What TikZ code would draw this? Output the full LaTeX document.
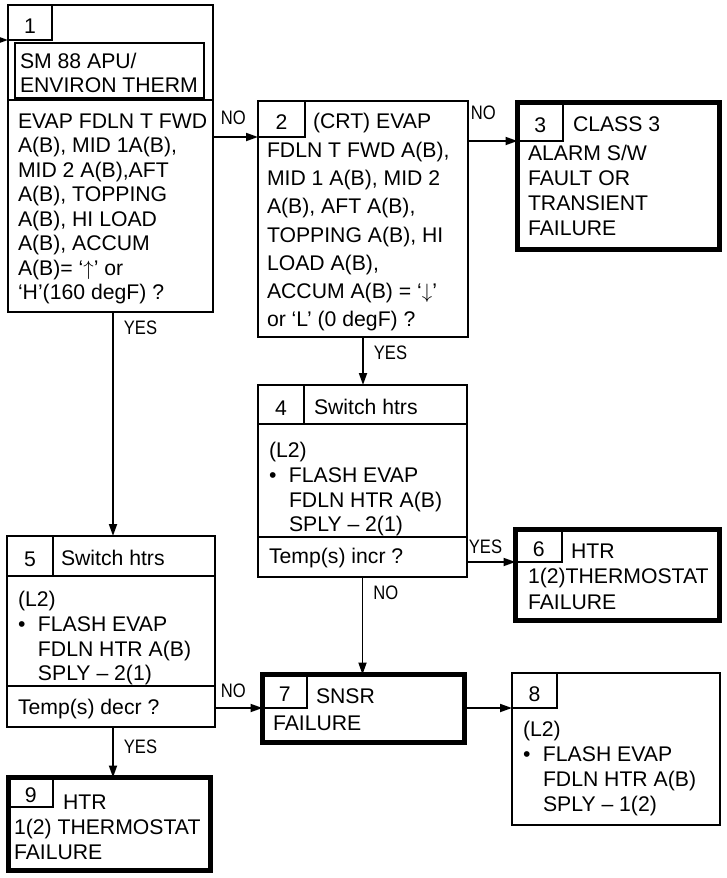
\documentclass[tikz,border=0pt]{standalone}
\usepackage{fontspec}
\setmainfont{Liberation Sans}
\newfontfamily\narrowfont[FakeStretch=0.85]{Liberation Sans}
\usetikzlibrary{arrows.meta, positioning, calc}
\tikzset{
  every picture/.style={line width=2pt},
  stepbox/.style={draw, line width=2pt, inner sep=0pt, outer sep=0pt, anchor=north west},
  endbox/.style={stepbox, line width=5pt},
  tab/.style={draw, line width=1.5pt, inner sep=0pt, outer sep=0pt, anchor=north west,
    text height=21pt, text depth=0pt, font=\fontsize{21.2}{25}\selectfont},
  txt/.style={inner sep=0pt, anchor=north west, align=left, font=\fontsize{21.2}{#1}\selectfont},
  txt/.default=25,
  arrow/.style={-{Triangle[length=12pt, width=8pt]}, line width=1.8pt},
  lbl/.style={inner sep=0pt, font=\narrowfont\fontsize{19.5}{20}\selectfont},
}
\begin{document}
\begin{tikzpicture}[x=1pt, y=-1pt]
  \useasboundingbox (0,0) rectangle (727,878);
  % 1: start
  \node[stepbox, minimum width=205, minimum height=307] (b1) at (8,5) {};
  \node[tab, minimum width=44, minimum height=35] (t1) at (b1.north west) {1};
  \node[stepbox, minimum width=189, minimum height=55] (h1) at (15,43) {};
  \node[txt=23.5] (h1t) at (19,52.5) {SM 88 APU/\\ENVIRON THERM};
  \draw (b1.west |- 0,100) -- (b1.east |- 0,100);
  \node[txt=24.5] (q1) at (17,112.5) {EVAP FDLN T FWD\\A(B), MID 1A(B),\\MID 2 A(B),AFT\\A(B), TOPPING\\A(B), HI LOAD\\A(B), ACCUM\\A(B)= ‘$\uparrow$’ or\\‘H’(160 degF) ?};
  % 2: low limit check
  \node[stepbox, minimum width=210, minimum height=236] (b2) at (258,101) {};
  \node[tab, minimum width=47, minimum height=36] (t2) at (b2.north west) {2};
  \node[txt=28.3] (q2) at (266,112.5) {\hspace*{46pt}(CRT) EVAP\\FDLN T FWD A(B),\\MID 1 A(B), MID 2\\A(B), AFT A(B),\\TOPPING A(B), HI\\LOAD A(B),\\ACCUM A(B) = ‘$\downarrow$’\\or ‘L’ (0 degF) ?};
  % 3: class 3 alarm
  \node[endbox, minimum width=202, minimum height=147] (b3) at (517.5,102.5) {};
  \node[tab, minimum width=45.5, minimum height=38.5] (t3) at (b3.north west) {3};
  \node[txt] (h3) at (572,115.5) {CLASS 3};
  \node[txt] (q3) at (527,144.5) {ALARM S/W\\FAULT OR\\TRANSIENT\\FAILURE};
  % 4: switch heaters (low)
  \node[stepbox, minimum width=209, minimum height=192] (b4) at (258,385) {};
  \node[tab, minimum width=46, minimum height=39] (t4) at (b4.north west) {4};
  \draw (t4.south west) -- (t4.south -| b4.east);
  \node[txt] (h4) at (313,398.5) {Switch htrs};
  \node[txt=24.7] (q4) at (268,441.5) {(L2)\\\makebox[20pt][l]{•}FLASH EVAP\\\hspace*{20pt}FDLN HTR A(B)\\\hspace*{20pt}SPLY – 2(1)};
  \draw (b4.west |- 0,537) -- (b4.east |- 0,537);
  \node[txt] (a4) at (268,547.5) {Temp(s) incr ?};
  % 5: switch heaters (high)
  \node[stepbox, minimum width=208, minimum height=191] (b5) at (7,536) {};
  \node[tab, minimum width=46, minimum height=40] (t5) at (b5.north west) {5};
  \draw (t5.south west) -- (t5.south -| b5.east);
  \node[txt] (h5) at (60,549.5) {Switch htrs};
  \node[txt=24.7] (q5) at (17,590.5) {(L2)\\\makebox[20pt][l]{•}FLASH EVAP\\\hspace*{20pt}FDLN HTR A(B)\\\hspace*{20pt}SPLY – 2(1)};
  \draw (b5.west |- 0,686) -- (b5.east |- 0,686);
  \node[txt] (a5) at (17,698.5) {Temp(s) decr ?};
  % 6: thermostat failure
  \node[endbox, minimum width=204, minimum height=91] (b6) at (515.5,529.5) {};
  \node[tab, minimum width=46.5, minimum height=32.5] (t6) at (b6.north west) {6};
  \node[txt] (h6) at (570,542.5) {HTR};
  \node[txt=25.5] (q6) at (527,567.5) {1(2)THERMOSTAT\\FAILURE};
  % 7: sensor failure
  \node[endbox, minimum width=202, minimum height=68] (b7) at (262.5,674.5) {};
  \node[tab, minimum width=44.5, minimum height=33.5] (t7) at (b7.north west) {7};
  \node[txt] (h7) at (315,687.5) {SNSR};
  \node[txt] (q7) at (272,714.5) {FAILURE};
  % 8: switch back
  \node[stepbox, minimum width=208, minimum height=152] (b8) at (512,673) {};
  \node[tab, minimum width=45, minimum height=35] (t8) at (b8.north west) {8};
  \node[txt] (q8) at (522,720.5) {(L2)\\\makebox[20pt][l]{•}FLASH EVAP\\\hspace*{20pt}FDLN HTR A(B)\\\hspace*{20pt}SPLY – 1(2)};
  % 9: thermostat failure
  \node[endbox, minimum width=202, minimum height=93] (b9) at (8.5,777.5) {};
  \node[tab, minimum width=44.5, minimum height=29.5] (t9) at (b9.north west) {9};
  \node[txt] (h9) at (62,793.5) {HTR};
  \node[txt] (q9) at (13,818.5) {1(2) THERMOSTAT\\FAILURE};
  % connectors
  \coordinate (feed) at (0,40);
  \draw[arrow] (feed) -- (t1.south -| b1.west);
  \draw[arrow] (t2.south -| b1.east) -- node[lbl, pos=0, anchor=south west, xshift=7, yshift=11] (n12) {NO} (t2.south -| b2.west);
  \draw[arrow] (t3.south -| b2.east) -- node[lbl, pos=0, anchor=south west, xshift=2, yshift=20] (n23) {NO} (t3.south -| b3.west);
  \draw[arrow] (b1.south -| 113,0) -- node[lbl, pos=0, anchor=north west, xshift=10, yshift=-8] (y15) {YES} (b5.north -| 113,0);
  \draw[arrow] (b2.south) -- node[lbl, pos=0, anchor=north west, xshift=10, yshift=-8] (y24) {YES} (b2.south |- b4.north);
  \draw[arrow] (b4.east |- t6.south) -- node[lbl, pos=0, anchor=south west, xshift=1, yshift=7] (y46) {YES} (t6.south -| b6.west);
  \draw[arrow] (b4.south) -- node[lbl, pos=0, anchor=north west, xshift=10, yshift=-8] (n47) {NO} (b4.south |- b7.north);
  \draw[arrow] (b5.east |- t7.south) -- node[lbl, pos=0, anchor=south west, xshift=5, yshift=9] (n57) {NO} (t7.south -| b7.west);
  \draw[arrow] (b7.east |- t8.south) -- (t8.south -| b8.west);
  \draw[arrow] (b5.south -| 113,0) -- node[lbl, pos=0, anchor=north west, xshift=10, yshift=-12] (y59) {YES} (b9.north -| 113,0);
\end{tikzpicture}
\end{document}
